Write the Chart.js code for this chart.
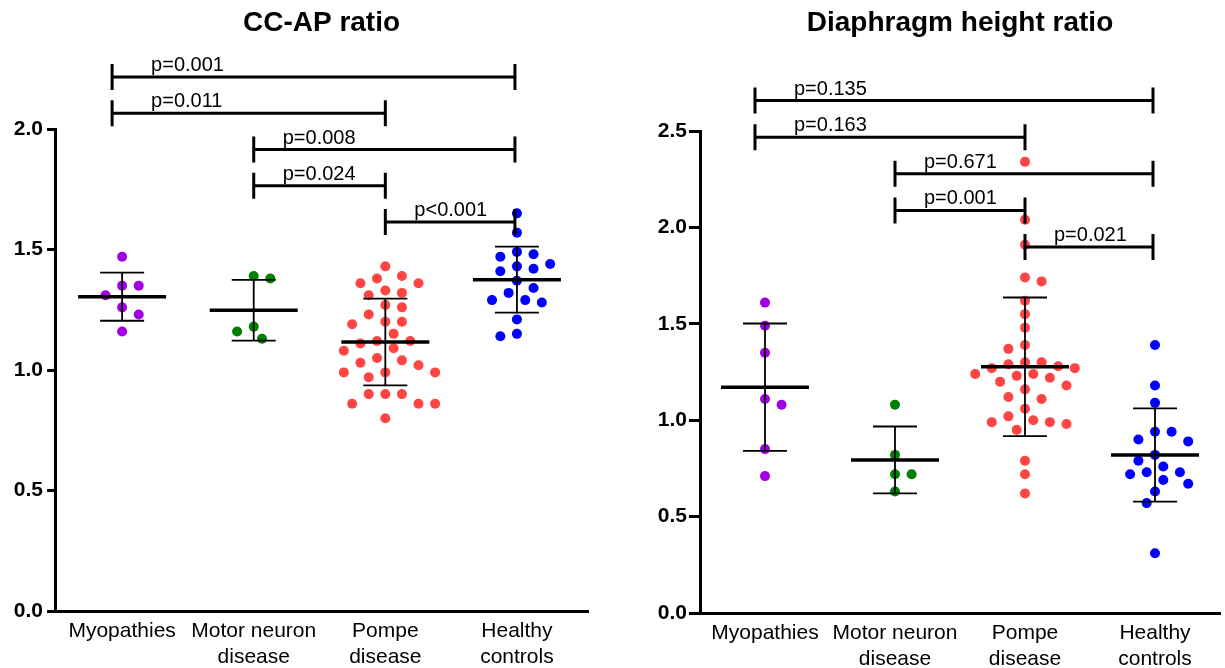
<!DOCTYPE html>
<html><head><meta charset="utf-8">
<script src="https://cdn.jsdelivr.net/npm/chart.js@4.4.0/dist/chart.umd.min.js"></script>
<style>
html,body{margin:0;padding:0;background:#fff;}
#wrap{position:relative;width:1225px;height:668px;overflow:hidden;background:#fff;}
#c1{position:absolute;left:0;top:0;}
#c2{position:absolute;left:620px;top:0;}
</style></head><body>
<div id="wrap"><canvas id="c1" width="600" height="668"></canvas><canvas id="c2" width="605" height="668"></canvas></div>
<script>
// ---------- data ----------
const categories = [['Myopathies'], ['Motor neuron', 'disease'], ['Pompe', 'disease'], ['Healthy', 'controls']];

// CC-AP ratio
const ccMyopathies = [1.47, 1.35, 1.35, 1.31, 1.26, 1.23, 1.16];
const ccMotorNeuron = [1.39, 1.38, 1.18, 1.16, 1.13];
const ccPompe = [1.43, 1.39, 1.38, 1.36, 1.36, 1.33, 1.32, 1.31, 1.27, 1.26, 1.23, 1.20, 1.20, 1.19, 1.15, 1.12, 1.12, 1.11, 1.09, 1.08, 1.05, 1.04, 1.03, 1.02, 0.99, 0.99, 0.99, 0.97, 0.90, 0.90, 0.90, 0.86, 0.86, 0.86, 0.80];
const ccHealthy = [1.65, 1.57, 1.49, 1.48, 1.47, 1.44, 1.43, 1.42, 1.41, 1.37, 1.34, 1.32, 1.29, 1.29, 1.28, 1.21, 1.15, 1.14];
const ccTicks = [0, 0.5, 1.0, 1.5, 2.0];
const ccBracketFrom = [1, 1, 2, 2, 3];
const ccBracketTo = [4, 3, 4, 3, 4];
const ccBracketLabels = ['p=0.001', 'p=0.011', 'p=0.008', 'p=0.024', 'p<0.001'];

// Diaphragm height ratio
const dhMyopathies = [1.61, 1.49, 1.35, 1.11, 1.08, 0.85, 0.71];
const dhMotorNeuron = [1.08, 0.82, 0.72, 0.72, 0.63];
const dhPompe = [2.34, 2.04, 1.91, 1.74, 1.72, 1.62, 1.55, 1.48, 1.39, 1.37, 1.30, 1.30, 1.29, 1.28, 1.27, 1.27, 1.24, 1.24, 1.23, 1.22, 1.20, 1.18, 1.16, 1.12, 1.11, 1.06, 1.02, 1.00, 0.99, 0.99, 0.98, 0.95, 0.79, 0.72, 0.62];
const dhHealthy = [1.39, 1.18, 1.09, 0.94, 0.94, 0.90, 0.89, 0.82, 0.79, 0.76, 0.73, 0.73, 0.72, 0.69, 0.67, 0.63, 0.57, 0.31];
const dhTicks = [0, 0.5, 1.0, 1.5, 2.0, 2.5];
const dhBracketFrom = [1, 1, 2, 2, 3];
const dhBracketTo = [4, 3, 4, 3, 4];
const dhBracketLabels = ['p=0.135', 'p=0.163', 'p=0.671', 'p=0.001', 'p=0.021'];

// ---------- styles ----------
const groupColors = ['#A100E6', '#008000', '#FF4444', '#0000FF'];
const FONT = "'Liberation Sans', Arial, Helvetica, sans-serif";

function mean(a) { return a.reduce((s, v) => s + v, 0) / a.length; }
function sd(a) { const m = mean(a); return Math.sqrt(a.reduce((s, v) => s + (v - m) * (v - m), 0) / (a.length - 1)); }

// beeswarm offsets (pixels) from pixel y positions; elliptical collision
function swarm(py, step, rx, ry) {
  const order = py.map((v, i) => i).sort((a, b) => py[a] - py[b]);
  const placed = [];
  const out = new Array(py.length).fill(0);
  let pref = 1;
  const ok = (dx, y) => placed.every(p => ((p.dx - dx) / rx) ** 2 + ((p.y - y) / ry) ** 2 >= 1);
  for (const i of order) {
    const y = py[i];
    for (let k = 0; k < 60; k++) {
      const cands = k === 0 ? [0] : [pref * k * step, -pref * k * step];
      let found = null;
      for (const dx of cands) { if (ok(dx, y)) { found = dx; break; } }
      if (found !== null) {
        out[i] = found; placed.push({ y, dx: found });
        if (found !== 0) pref = -Math.sign(found);
        break;
      }
    }
  }
  return out;
}

const statsPlugin = {
  id: 'stats',
  afterDatasetsDraw(chart, args, opts) {
    const ctx = chart.ctx, xs = chart.scales.x, ys = chart.scales.y;
    ctx.save();
    ctx.strokeStyle = '#000';
    opts.groups.forEach((g, gi) => {
      const cx = xs.getPixelForValue(gi + 1);
      const m = mean(g), s = sd(g);
      const yM = ys.getPixelForValue(m), yT = ys.getPixelForValue(m + s), yB = ys.getPixelForValue(m - s);
      ctx.lineWidth = 1.8;
      ctx.beginPath();
      ctx.moveTo(cx, yT); ctx.lineTo(cx, yB);
      ctx.moveTo(cx - 22, yT); ctx.lineTo(cx + 22, yT);
      ctx.moveTo(cx - 22, yB); ctx.lineTo(cx + 22, yB);
      ctx.stroke();
      ctx.lineWidth = 3.5;
      ctx.beginPath();
      ctx.moveTo(cx - 44, yM); ctx.lineTo(cx + 44, yM);
      ctx.stroke();
    });
    // significance brackets
    const n = opts.from.length;
    ctx.lineWidth = 3;
    ctx.fillStyle = '#000';
    ctx.font = '20px ' + FONT;
    ctx.textAlign = 'left';
    ctx.textBaseline = 'alphabetic';
    for (let i = 0; i < n; i++) {
      const level = n - 1 - i;
      const y = chart.chartArea.top + opts.base - level * opts.spacing;
      const xa = xs.getPixelForValue(opts.from[i]) + (opts.from[i] === 1 ? -10 : 0);
      const xb = xs.getPixelForValue(opts.to[i]) + (opts.to[i] === 4 ? -2 : 0);
      ctx.beginPath();
      ctx.moveTo(xa, y); ctx.lineTo(xb, y);
      ctx.moveTo(xa, y - 13); ctx.lineTo(xa, y + 13);
      ctx.moveTo(xb, y - 13); ctx.lineTo(xb, y + 13);
      ctx.stroke();
      ctx.fillText(opts.labels[i], xs.getPixelForValue(opts.from[i]) + 29, y - 6);
    }
    ctx.restore();
  }
};

function makeChart(canvasId, cfg) {
  const datasets = cfg.groups.map((g, gi) => ({
    data: g.map(v => ({ x: gi + 1, y: v })),
    backgroundColor: groupColors[gi],
    borderWidth: 0,
    pointRadius: 5,
    pointHoverRadius: 5
  }));
  const chart = new Chart(document.getElementById(canvasId), {
    type: 'scatter',
    data: { datasets },
    plugins: [statsPlugin],
    options: {
      responsive: false,
      animation: false,
      events: [],
      layout: { padding: { left: 0, right: cfg.padRight, top: 0, bottom: 0 } },
      plugins: {
        legend: { display: false },
        tooltip: { enabled: false },
        title: {
          display: true, text: cfg.title, color: '#000', fullSize: false,
          font: { family: FONT, size: 28, weight: 'bold' },
          padding: { top: 6, bottom: cfg.titleGap }
        },
        stats: { groups: cfg.groups, from: cfg.from, to: cfg.to, labels: cfg.labels, base: cfg.bracketBase, spacing: cfg.bracketSpacing }
      },
      scales: {
        x: {
          type: 'linear', min: cfg.xMin, max: cfg.xMax,
          afterBuildTicks: s => { s.ticks = categories.map((c, i) => ({ value: i + 1 })); },
          ticks: {
            callback: v => categories[Math.round(v) - 1],
            color: '#000', font: { family: FONT, size: 21 }, padding: 8,
            autoSkip: false, maxRotation: 0, minRotation: 0
          },
          grid: { display: false, drawTicks: false },
          border: { display: true, color: '#000', width: 3 },
          afterFit: s => { s.height = cfg.xHeight; }
        },
        y: {
          min: 0, max: cfg.ticks[cfg.ticks.length - 1],
          afterBuildTicks: s => { s.ticks = cfg.ticks.map(v => ({ value: v })); },
          ticks: {
            callback: v => Number(v).toFixed(1),
            color: '#000', font: { family: FONT, size: 21, weight: 'bold' }, padding: cfg.yPad
          },
          grid: { display: true, drawOnChartArea: false, drawTicks: true, tickLength: cfg.tickLen, color: '#000', lineWidth: 3 },
          border: { display: true, color: '#000', width: 3 },
          afterFit: s => { s.width = cfg.yWidth; }
        }
      }
    }
  });
  // beeswarm layout computed through the chart's scales
  const xs = chart.scales.x, ys = chart.scales.y;
  const ppu = xs.getPixelForValue(2) - xs.getPixelForValue(1);
  chart.data.datasets.forEach((ds, gi) => {
    const vals = cfg.groups[gi];
    const offs = swarm(vals.map(v => ys.getPixelForValue(v)), 8.3, 16, 12.5);
    ds.data = vals.map((v, i) => ({ x: gi + 1 + offs[i] / ppu, y: v }));
  });
  chart.update('none');
  return chart;
}

makeChart('c1', {
  title: 'CC-AP ratio',
  groups: [ccMyopathies, ccMotorNeuron, ccPompe, ccHealthy],
  ticks: ccTicks, from: ccBracketFrom, to: ccBracketTo, labels: ccBracketLabels,
  xMin: 0.49, xMax: 4.54, yWidth: 55, xHeight: 57, padRight: 12, titleGap: 89.4,
  bracketBase: 93, bracketSpacing: 36.25, tickLen: 8, yPad: 4
});
makeChart('c2', {
  title: 'Diaphragm height ratio',
  groups: [dhMyopathies, dhMotorNeuron, dhPompe, dhHealthy],
  ticks: dhTicks, from: dhBracketFrom, to: dhBracketTo, labels: dhBracketLabels,
  xMin: 0.5, xMax: 4.5, yWidth: 80, xHeight: 55, padRight: 0, titleGap: 91.4,
  bracketBase: 116, bracketSpacing: 36.6, tickLen: 11, yPad: 2
});
</script>
</body></html>
